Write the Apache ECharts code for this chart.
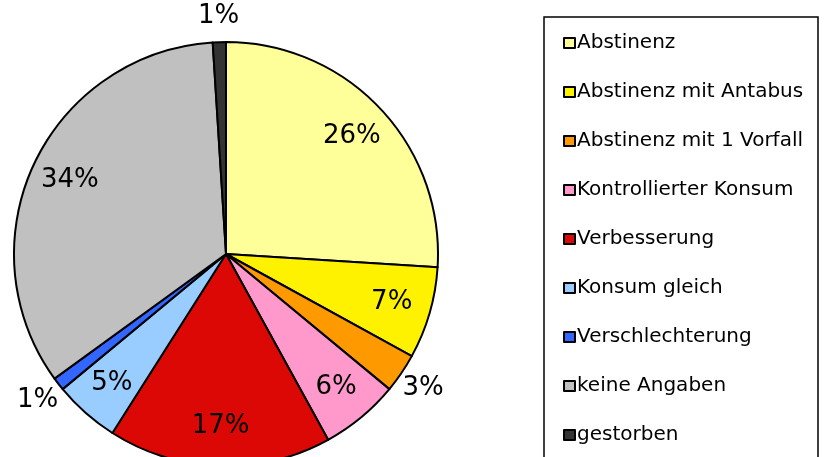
<!DOCTYPE html>
<html>
<head>
<meta charset="utf-8">
<script src="https://cdn.jsdelivr.net/npm/echarts@6/dist/echarts.min.js"></script>
<style>
    html, body {margin: 0; padding: 0; background: #fff;}
    #chart {width: 828px; height: 457px;}
</style>
</head>
<body>
<div id="chart"></div>
<script>
const categories = ['Abstinenz', 'Abstinenz mit Antabus', 'Abstinenz mit 1 Vorfall', 'Kontrollierter Konsum',
    'Verbesserung', 'Konsum gleich', 'Verschlechterung', 'keine Angaben', 'gestorben'];
const values = [26, 7, 3, 6, 17, 5, 1, 34, 1];
const colors = ['#ffff99', '#fff200', '#ff9900', '#ff99cc', '#dc0806', '#99ccff', '#3366ff', '#c0c0c0', '#333333'];
// labels drawn outside the pie for the thin slices
const labelOutside = [false, false, true, false, false, false, true, false, true];

const R = 212;
const center = [226, 254];

const pieData = categories.map((name, i) => ({
    name: name,
    value: values[i],
    itemStyle: {color: colors[i]}
}));

function labelData(outside) {
    return categories.map((name, i) => ({
        name: name,
        value: values[i],
        label: {show: labelOutside[i] === outside}
    }));
}

const labelStyle = {
    position: 'inside',
    formatter: '{c}%',
    color: '#000',
    fontFamily: 'DejaVu Sans',
    fontSize: 26
};

const chart = echarts.init(document.getElementById('chart'));

const option = {
    animation: false,
    backgroundColor: '#fff',
    graphic: [{
        type: 'rect',
        shape: {x: 544, y: 17, width: 274, height: 460},
        style: {fill: '#fff', stroke: '#000', lineWidth: 1.5},
        z: -1
    }],
    legend: {
        orient: 'vertical',
        left: 544,
        top: 17,
        padding: [16, 0, 0, 19],
        icon: 'rect',
        itemWidth: 11,
        itemHeight: 10,
        itemGap: 29,
        data: categories,
        selectedMode: false,
        itemStyle: {borderColor: '#000', borderWidth: 2},
        textStyle: {
            fontFamily: 'DejaVu Sans',
            fontSize: 20,
            lineHeight: 20,
            color: '#000',
            padding: [0, 0, 0, -3]
        }
    },
    series: [
        {
            type: 'pie',
            center: center,
            radius: [0, R],
            startAngle: 90,
            avoidLabelOverlap: false,
            silent: true,
            label: {show: false},
            labelLine: {show: false},
            itemStyle: {borderColor: '#000', borderWidth: 2},
            data: pieData
        },
        {
            type: 'pie',
            center: center,
            radius: [R * 0.6, R],
            startAngle: 90,
            avoidLabelOverlap: false,
            silent: true,
            itemStyle: {color: 'transparent', borderWidth: 0},
            label: labelStyle,
            labelLine: {show: false},
            data: labelData(false)
        },
        {
            type: 'pie',
            center: center,
            radius: [R, R * 1.22],
            startAngle: 90,
            avoidLabelOverlap: false,
            silent: true,
            itemStyle: {color: 'transparent', borderWidth: 0},
            label: labelStyle,
            labelLine: {show: false},
            data: labelData(true)
        }
    ]
};

option && chart.setOption(option);
</script>
</body>
</html>
